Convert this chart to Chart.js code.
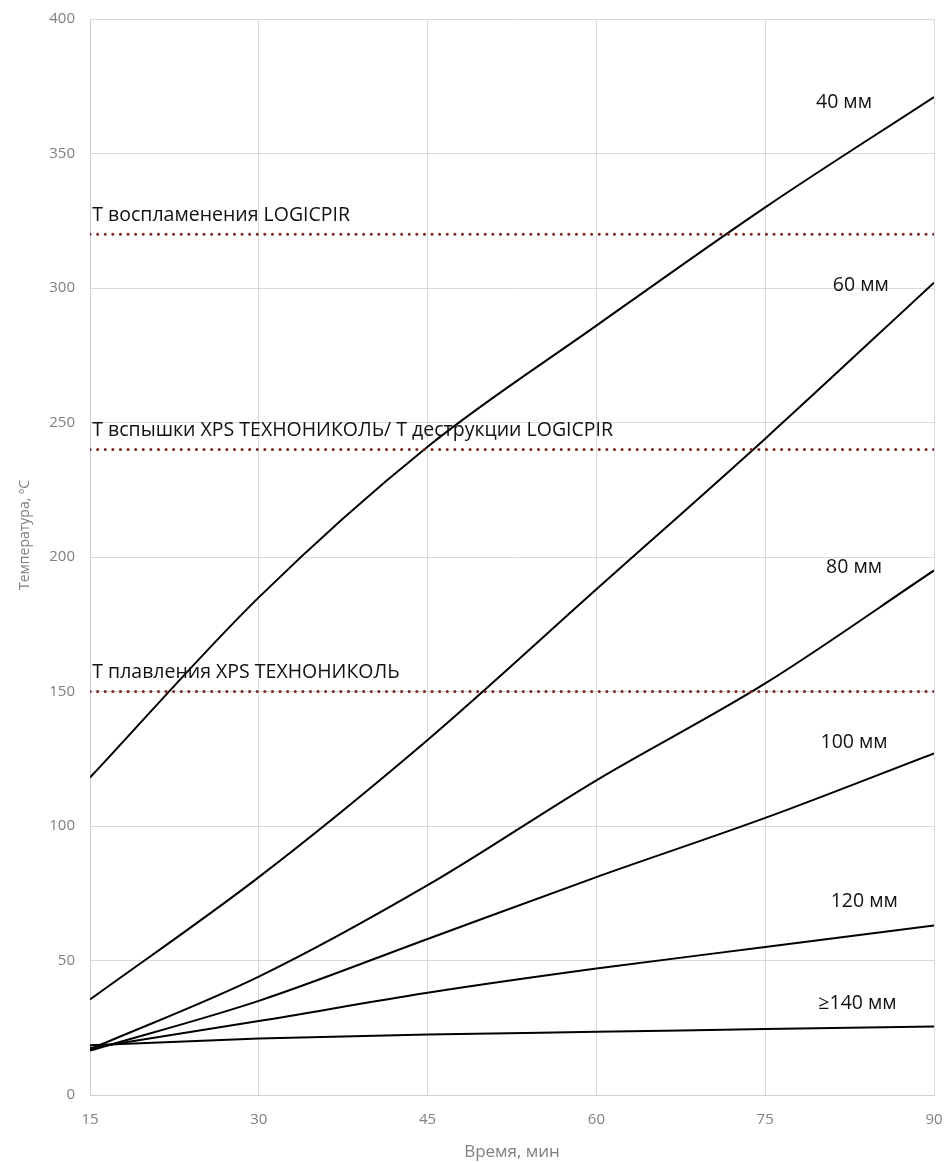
<!DOCTYPE html>
<html>
<head>
<meta charset="utf-8">
<title>Температура — время</title>
<script src="https://cdn.jsdelivr.net/npm/chart.js@4/dist/chart.umd.min.js"></script>
<style>
  html, body { margin: 0; padding: 0; background: #fff; }
  #wrap { width: 947px; height: 1162px; position: relative; }
</style>
</head>
<body>
<div id="wrap"><canvas id="chart" width="947" height="1162"></canvas></div>
<script>
// Data
const minutes = [15, 30, 45, 60, 75, 90];
const temp40 = [118, 185, 241, 286, 330, 371];
const temp60 = [35.5, 81, 132, 188, 244, 302];
const temp80 = [17, 44, 78, 117, 153, 195];
const temp100 = [16.5, 35, 58, 81, 103, 127];
const temp120 = [17.5, 27.5, 38, 47, 55, 63];
const temp140 = [18.5, 21, 22.5, 23.5, 24.5, 25.5];

const seriesNames = ['40 мм', '60 мм', '80 мм', '100 мм', '120 мм', '≥140 мм'];
const seriesValues = [temp40, temp60, temp80, temp100, temp120, temp140];

const limitNames = [
  'Т воспламенения LOGICPIR',
  'Т вспышки XPS ТЕХНОНИКОЛЬ/ Т деструкции LOGICPIR',
  'Т плавления XPS ТЕХНОНИКОЛЬ'
];
const limitValues = [320, 240, 150];

const xTicks = [15, 30, 45, 60, 75, 90];
const yTicks = [0, 50, 100, 150, 200, 250, 300, 350, 400];

const FONT = '"Open Sans", "DejaVu Sans", sans-serif';

function toPoints(values) {
  return values.map((v, i) => ({ x: minutes[i], y: v }));
}

const datasets = [];
limitValues.forEach((v, i) => {
  datasets.push({
    label: limitNames[i],
    data: [{ x: minutes[0], y: v }, { x: minutes[minutes.length - 1], y: v }],
    borderColor: '#7b2a2a',
    borderWidth: 3,
    borderDash: [0.1, 7.5],
    borderCapStyle: 'round',
    pointRadius: 0,
    fill: false
  });
});
seriesValues.forEach((vals, i) => {
  datasets.push({
    label: seriesNames[i],
    data: toPoints(vals),
    borderColor: '#000',
    borderWidth: 2,
    cubicInterpolationMode: 'monotone',
    pointRadius: 0,
    fill: false
  });
});

// where the text labels sit, in chart units
const curveLabelPos = [
  { x: 82, y: 369 }, { x: 83.5, y: 301 }, { x: 82.9, y: 196 },
  { x: 82.9, y: 131 }, { x: 83.8, y: 72 }, { x: 83.2, y: 34 }
];
const limitLabelOffset = 7;

const labelPlugin = {
  id: 'labels',
  afterDatasetsDraw(chart) {
    const { ctx, scales } = chart;
    const xs = scales.x, ys = scales.y;
    ctx.save();
    ctx.fillStyle = '#111';
    ctx.font = '19.5px ' + FONT;
    ctx.textBaseline = 'middle';
    ctx.textAlign = 'center';
    seriesNames.forEach((name, i) => {
      const p = curveLabelPos[i];
      ctx.fillText(name, xs.getPixelForValue(p.x), ys.getPixelForValue(p.y));
    });
    ctx.textAlign = 'left';
    limitNames.forEach((name, i) => {
      ctx.fillText(name, xs.getPixelForValue(15.2), ys.getPixelForValue(limitValues[i] + limitLabelOffset));
    });

    // y axis title, sits a bit above the middle as in the original
    ctx.fillStyle = '#7f7f7f';
    ctx.font = '14px ' + FONT;
    ctx.translate(25, 535);
    ctx.rotate(-Math.PI / 2);
    ctx.textAlign = 'center';
    ctx.fillText('Температура, ºС', 0, 0);
    ctx.restore();
  }
};

new Chart(document.getElementById('chart'), {
  type: 'line',
  data: { datasets },
  options: {
    responsive: false,
    animation: false,
    layout: { padding: { left: 0, right: 13, top: 19, bottom: 0 } },
    plugins: {
      legend: { display: false },
      tooltip: { enabled: false }
    },
    scales: {
      x: {
        type: 'linear',
        min: 15,
        max: 90,
        afterBuildTicks: axis => { axis.ticks = xTicks.map(v => ({ value: v })); },
        ticks: { color: '#7f7f7f', font: { family: FONT, size: 15 }, padding: 16 },
        grid: { color: '#d9d9d9', lineWidth: 1, drawTicks: false },
        border: { color: '#cfcfcf' },
        title: {
          display: true,
          text: 'Время, мин',
          color: '#7f7f7f',
          font: { family: FONT, size: 17 },
          padding: { top: 6, bottom: 0 }
        },
        afterFit: axis => {
          axis.height = 67;
          axis.paddingLeft = 0;
          axis.paddingRight = 0;
        }
      },
      y: {
        type: 'linear',
        min: 0,
        max: 400,
        afterBuildTicks: axis => { axis.ticks = yTicks.map(v => ({ value: v })); },
        ticks: { color: '#7f7f7f', font: { family: FONT, size: 15 }, padding: 15 },
        grid: { color: '#d9d9d9', lineWidth: 1, drawTicks: false },
        border: { color: '#cfcfcf' },
        title: { display: false },
        afterFit: axis => {
          axis.width = 90;
          axis.paddingTop = 0;
          axis.paddingBottom = 0;
        }
      }
    }
  },
  plugins: [labelPlugin]
});
</script>
</body>
</html>
